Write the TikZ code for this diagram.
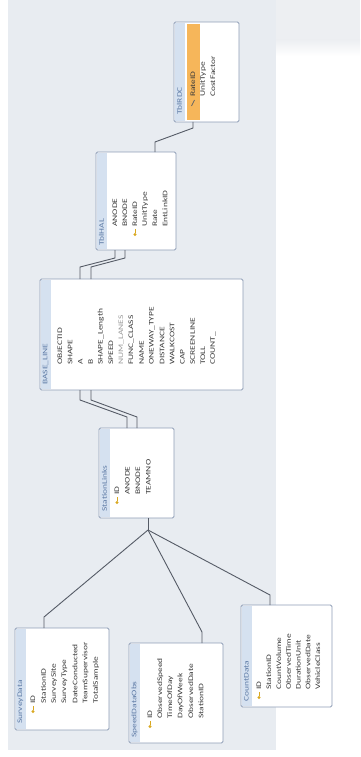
\documentclass[tikz,border=0pt]{standalone}
\usepackage{fontspec}
\setmainfont{Carlito}
\usetikzlibrary{calc}
\definecolor{bg}{HTML}{E8ECF1}
\definecolor{band}{HTML}{EDEFF2}
\definecolor{tblborder}{HTML}{8E9DB6}
\definecolor{titlefill}{HTML}{D5E1F0}
\definecolor{titletext}{HTML}{5D7AA5}
\definecolor{fieldtext}{HTML}{3A3A3A}
\definecolor{greytext}{HTML}{9A9A9A}
\definecolor{keyhl}{HTML}{F6B65A}
\definecolor{conncol}{HTML}{555B66}
\definecolor{keycol}{HTML}{D9A820}
\tikzset{
  tbl/.style={draw=tblborder, fill=white, line width=0.9pt, rounded corners=1.5pt, inner sep=0pt, outer sep=0pt},
  fld/.style={rotate=90, anchor=west, xscale=1.35, font=\fontsize{7}{8}\selectfont, text=fieldtext, inner sep=0pt},
  ttl/.style={fld, text=titletext},
  conn/.style={draw=conncol, line width=0.9pt},
  keyicon/.style={draw=keycol, fill=keycol, line width=0.8pt},
  tstrip/.style={fill=titlefill},
}
\begin{document}
\begin{tikzpicture}[x=1pt,y=-1pt]
\useasboundingbox (0,0) rectangle (360,757);
% backgrounds
\fill[white] (0,0) rectangle (360,757);
\fill[bg] (8,0) rectangle (276,750);
\fill[band] (276,0) rectangle (360,40);
\shade[top color=band, bottom color=white] (276,40) rectangle (360,56);

% ---------- tables ----------
\node[tbl, minimum width=65pt, minimum height=100pt] (rdc) at (206.5,72) {};
\node[tbl, minimum width=80pt, minimum height=98pt] (hal) at (136,201) {};
\node[tbl, minimum width=203pt, minimum height=111pt] (base) at (141.5,334.5) {};
\node[tbl, minimum width=75pt, minimum height=90pt] (sl) at (136.5,473) {};
\node[tbl, minimum width=94pt, minimum height=102pt] (sd) at (62,679) {};
\node[tbl, minimum width=94pt, minimum height=100pt] (obs) at (176,693) {};
\node[tbl, minimum width=91pt, minimum height=102pt] (cd) at (286.5,656) {};

% title strips
\foreach \t in {rdc,hal,base,sl,sd,obs,cd}{
  \fill[tstrip] ($(\t.north west)+(0.6,0.6)$) rectangle ($(\t.south west)+(11,-0.6)$);
}
\fill[keyhl] (186.5,24) rectangle (199.5,120);

% titles
\node[ttl] (rdc-t) at (179.5,115) {TblRDC};
\node[ttl] (hal-t) at (101.5,246) {TblHAL};
\node[ttl] (base-t) at (45.5,385) {BASE\_LINE};
\node[ttl] (sl-t) at (104.5,512) {StationLinks};
\node[ttl] (sd-t) at (20.5,724) {SurveyData};
\node[ttl] (obs-t) at (134.5,738) {SpeedDataObs};
\node[ttl] (cd-t) at (246.5,702) {CountData};

% fields: TblRDC
\node[fld] (rdc-f1) at (193,97) {RateID};
\node[fld] (rdc-f2) at (203,97) {UnitType};
\node[fld] (rdc-f3) at (213,97) {CostFactor};
\draw[draw=black!60, line width=0.8pt] (191.5,106) -- (194.5,100);
% TblHAL
\foreach \t [count=\i] in {ANODE,BNODE,RateID,UnitType,Rate,EntLinkID}
  \node[fld] (hal-f\i) at ({115+10*(\i-1)},227) {\t};
% BASE_LINE
\foreach \t [count=\i] in {OBJECTID,SHAPE,A,B,SHAPE\_Length,SPEED,,FUNC\_CLASS,NAME,ONEWAY\_TYPE,DISTANCE,WALKCOST,CAP,SCREENLINE,TOLL,COUNT\_}
  \node[fld] (base-f\i) at ({60+10.2*(\i-1)},365) {\t};
\node[fld, text=greytext] (base-g) at (121.2,365) {NUM\_LANES};
% StationLinks
\foreach \t [count=\i] in {ID,ANODE,BNODE,TEAMNO}
  \node[fld] (sl-f\i) at ({117+10.5*(\i-1)},495) {\t};
% SurveyData
\foreach \t [count=\i] in {ID,StationID,SurveySite,SurveyType,DateConducted,TeamSupervisor,TotalSample}
  \node[fld] (sd-f\i) at ({33+10.5*(\i-1)},704) {\t};
% SpeedDataObs
\foreach \t [count=\i] in {ID,ObservedSpeed,TimeOfDay,DayOfWeek,ObservedDate,StationID}
  \node[fld] (obs-f\i) at ({150+10.2*(\i-1)},719) {\t};
% CountData
\foreach \t [count=\i] in {ID,StationID,CountVolume,ObservedTime,DurationUnit,ObservedDate,VehicleClass}
  \node[fld] (cd-f\i) at ({259+9.8*(\i-1)},690) {\t};

% key icons
\foreach \x/\y in {135/227,117/495,33/704,150/719,259/690}{
  \fill[keycol] (\x,\y+7.5) circle (1.7);
  \draw[keycol, line width=0.8pt] (\x,\y+6) -- (\x,\y+1.5);
}

% ---------- connectors ----------
\draw[conn] ($(rdc.south west)+(19,0)$) -- ++(0,6) -- ($(hal.north west)+(59,-10)$) -- ($(hal.north west)+(59,0)$);
\draw[conn] ($(hal.south west)+(19,0)$) -- ++(0,8) -- ($(base.north west)+(40,-12)$) -- ($(base.north west)+(40,0)$);
\draw[conn] ($(hal.south west)+(29,0)$) -- ++(0,8) -- ($(base.north west)+(51,-12)$) -- ($(base.north west)+(51,0)$);
\draw[conn] ($(base.south west)+(40,0)$) -- ++(0,10) -- ($(sl.north west)+(28,-11)$) -- ($(sl.north west)+(28,0)$);
\draw[conn] ($(base.south west)+(51,0)$) -- ++(0,10) -- ($(sl.north west)+(38,-11)$) -- ($(sl.north west)+(38,0)$);
\coordinate (hub) at ($(sl.south west)+(49,12)$);
\draw[conn] ($(sl.south west)+(49,0)$) -- (hub);
\draw[conn] (hub) -- ($(sd.north west)+(29,-11)$) -- ($(sd.north west)+(29,0)$);
\draw[conn] (hub) -- ($(obs.north west)+(73,-11)$) -- ($(obs.north west)+(73,0)$);
\draw[conn] (hub) -- ($(cd.north west)+(29,-10)$) -- ($(cd.north west)+(29,0)$);
\end{tikzpicture}
\end{document}
